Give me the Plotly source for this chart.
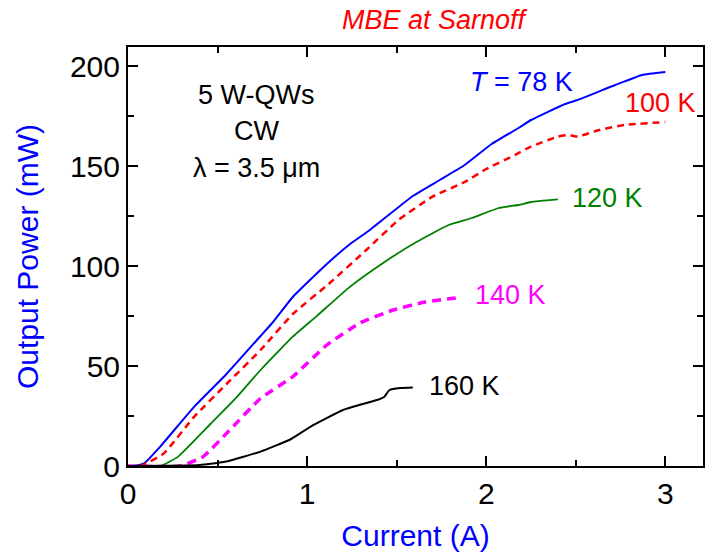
import plotly.graph_objects as go

# Current (A) and output power (mW) for each temperature
i_78 = [0, 0.05, 0.09, 0.18, 0.37, 0.55, 0.74, 0.81, 0.92, 1.11, 1.24, 1.35, 1.59, 1.74, 1.88, 2.03, 2.18, 2.25, 2.44, 2.51, 2.72, 2.87, 3.0]
p_78 = [0, 0.3, 1.3, 9.7, 29.7, 46, 65, 72, 84.5, 101, 111, 118, 135, 143, 150.5, 161, 169, 173, 181, 183, 190.5, 195.5, 197]

i_100 = [0, 0.07, 0.2, 0.37, 0.55, 0.74, 0.92, 1.12, 1.33, 1.51, 1.70, 1.88, 2.0, 2.16, 2.25, 2.40, 2.46, 2.51, 2.63, 2.77, 3.0]
p_100 = [0, 0, 6.3, 24.7, 41, 58, 76, 91, 108, 123, 134.7, 142, 148.5, 155.5, 159.7, 164.7, 165.5, 164.7, 168, 170.5, 172]

i_120 = [0, 0.18, 0.28, 0.46, 0.61, 0.74, 0.92, 1.05, 1.24, 1.42, 1.61, 1.79, 1.92, 2.07, 2.18, 2.25, 2.40]
p_120 = [0, 0, 4.7, 21, 34.7, 48, 64.7, 74.7, 89.7, 101.3, 112, 120.5, 124, 129, 130.5, 132, 133.3]

i_140 = [0, 0.29, 0.42, 0.55, 0.74, 0.92, 1.11, 1.29, 1.48, 1.66, 1.83]
p_140 = [0, 0, 4.7, 16.3, 33.8, 44.7, 60.5, 71.3, 78, 82, 84]

i_160 = [0, 0.40, 0.55, 0.74, 0.90, 1.02, 1.20, 1.39, 1.43, 1.46, 1.52, 1.59]
p_160 = [0, 0.5, 2.2, 7.2, 13, 19.7, 28, 33, 34.5, 38, 39, 39.3]

x_ticks = [0, 1, 2, 3]
y_ticks = [0, 50, 100, 150, 200]

FONT = "Liberation Sans, Arial, sans-serif"

fig = go.Figure()
series = [
    (i_78, p_78, "#0000FF", 2, "solid"),
    (i_100, p_100, "#FF0000", 2.5, "7px,5px"),
    (i_120, p_120, "#008000", 1.8, "solid"),
    (i_140, p_140, "#FF00FF", 3.5, "9px,6px"),
    (i_160, p_160, "#000000", 2, "solid"),
]
for xs, ys, col, w, dash in series:
    fig.add_trace(go.Scatter(x=xs, y=ys, mode="lines",
                             line=dict(color=col, width=w, dash=dash, shape="spline", smoothing=0.4),
                             showlegend=False, hoverinfo="skip"))

annots = [
    dict(x=522.5, y=82, text="<i>T</i> = 78 K", color="#0000FF"),
    dict(x=662, y=102.5, text="100 K", color="#FF0000"),
    dict(x=609, y=197.5, text="120 K", color="#008000"),
    dict(x=512, y=295, text="140 K", color="#FF00FF"),
    dict(x=465.5, y=386, text="160 K", color="#000000"),
    dict(x=257, y=95, text="5 W-QWs", color="#000000"),
    dict(x=257, y=131, text="CW", color="#000000"),
    dict(x=257, y=168, text="λ = 3.5 μm", color="#000000"),
]
W, H = 709, 552
L, R, T, B = 128, 4, 47, 86
pw, ph = W - L - R, H - T - B
for a in annots:
    fig.add_annotation(x=(a["x"] - L) / pw, y=1 - (a["y"] - T) / ph, xref="paper", yref="paper",
                       text=a["text"], showarrow=False, xanchor="center", yanchor="middle",
                       font=dict(family=FONT, size=27, color=a["color"]))

fig.add_annotation(x=(436 - L) / pw, y=1 - (20 - T) / ph, xref="paper", yref="paper",
                   text="<i>MBE at Sarnoff</i>", showarrow=False, xanchor="center", yanchor="middle",
                   font=dict(family=FONT, size=27, color="#FF0000"))

axis_common = dict(showline=True, linecolor="black", linewidth=2, mirror="ticks",
                   ticks="inside", ticklen=10, tickwidth=1.5, tickcolor="black",
                   showgrid=False, zeroline=False,
                   tickfont=dict(family=FONT, size=30, color="black"))

fig.update_layout(
    width=W, height=H,
    margin=dict(l=L, r=R, t=T, b=B),
    paper_bgcolor="white", plot_bgcolor="white",
    xaxis=dict(range=[0, 3.21], tickvals=x_ticks, ticktext=[str(v) for v in x_ticks],
               minor=dict(ticks="inside", ticklen=6, tickwidth=1.5, tickcolor="black", dtick=0.5),
               title=dict(text="Current (A)", font=dict(family=FONT, size=30, color="#0000FF"), standoff=16),
               **axis_common),
    yaxis=dict(range=[0, 209.5], tickvals=y_ticks, ticktext=[str(v) for v in y_ticks],
               minor=dict(ticks="inside", ticklen=6, tickwidth=1.5, tickcolor="black", dtick=25),
               title=dict(text="Output Power (mW)", font=dict(family=FONT, size=30, color="#0000FF"), standoff=22),
               **axis_common),
)

fig.write_html("out.html")
